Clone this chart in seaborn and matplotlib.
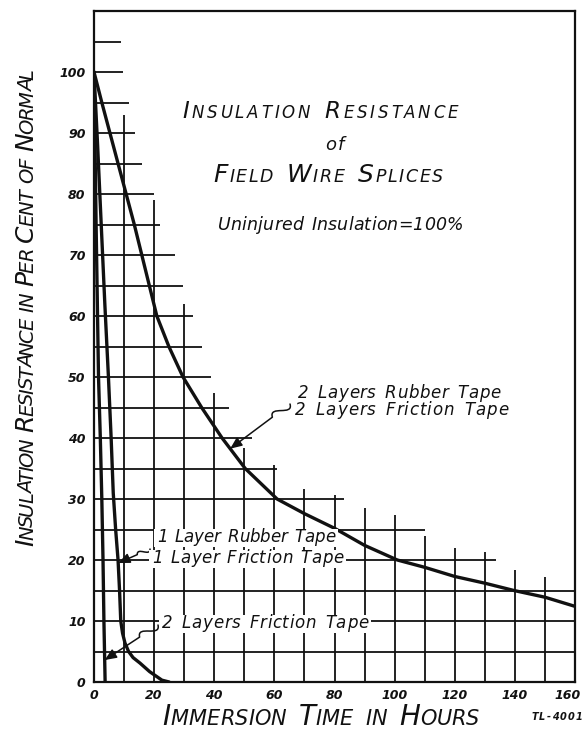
import numpy as np
import matplotlib
matplotlib.use("Agg")
import matplotlib.pyplot as plt
import matplotlib.transforms as mtransforms
import seaborn as sns
from matplotlib.path import Path
from matplotlib.patches import FancyArrowPatch, Rectangle

# ---- curves: insulation resistance (% of normal) against immersion time (h)
hours_2rubber = [0, 2.6, 5.3, 8.0, 10.7, 13.4, 15.9, 18.4, 20.9, 24.9, 29.6, 35.8,
                 42.6, 50.3, 60.9, 70, 80, 90, 100.9, 110, 120, 130, 139.7, 150, 160]
pct_2rubber = [100, 95, 90, 85, 80, 75, 70, 65, 60, 55, 50, 45,
               40, 35, 30, 27.6, 25.2, 22.4, 20, 18.8, 17.3, 16.2, 15, 13.9, 12.4]

hours_1rubber = [0, 1.2, 2.4, 3.6, 4.8, 5.7, 6.4, 7.2, 8.0, 8.5, 8.9, 9.5, 10.3,
                 11.5, 13.0, 15.3, 18.5, 22.6, 25.0]
pct_1rubber = [100, 88, 75, 62, 50, 40, 31, 25, 20, 15, 10, 8, 6.4,
               5, 4, 3.1, 1.7, 0.3, 0]

hours_2friction = [0, 0.7, 1.5, 2.1, 2.6, 3.0, 3.3, 3.5, 3.7]
pct_2friction = [100, 75, 50, 40, 30, 20, 10, 5, 0]

# ---- ruled grid: each line stops at its own length
grid_x = [10, 20, 30, 40, 50, 60, 70, 80, 90, 100, 110, 120, 130, 140, 150]
grid_x_top = [93, 79, 62, 47.3, 38.3, 35.5, 31.7, 30.6, 28.5, 27.3, 24, 22, 21.3, 18.3, 17.2]
grid_y = [105, 100, 95, 90, 85, 80, 75, 70, 65, 60, 55, 50, 45, 40, 35, 30, 25, 20, 15, 10, 5]
grid_y_end = [9, 9.5, 11.5, 13.7, 16, 20, 22, 27, 29.6, 33, 36, 39, 45, 52.6, 61, 83,
              110, 133.7, 160, 160, 160]

x_ticks = [0, 20, 40, 60, 80, 100, 120, 140, 160]
y_ticks = [0, 10, 20, 30, 40, 50, 60, 70, 80, 90, 100]

INK = "#111111"
W, H = 585, 731

sns.set_style("white")
plt.rcParams["font.family"] = ["DejaVu Sans"]

fig = plt.figure(figsize=(W / 100, H / 100), dpi=100)
ax = fig.add_axes([94 / W, 1 - 682 / H, (575 - 94) / W, (682 - 11) / H])

ax.vlines(grid_x, 0, grid_x_top, color=INK, lw=1.3, zorder=1)
ax.hlines(grid_y, 0, grid_y_end, color=INK, lw=1.3, zorder=1)

for hx, py in [(hours_2rubber, pct_2rubber), (hours_1rubber, pct_1rubber),
               (hours_2friction, pct_2friction)]:
    sns.lineplot(x=hx, y=py, ax=ax, color=INK, lw=2.4, estimator=None,
                 sort=False, zorder=3)

ax.set_xlim(0, 160)
ax.set_ylim(0, 110)
ax.set_xticks(x_ticks)
ax.set_yticks(y_ticks)
ax.set_xticklabels([str(v) for v in x_ticks])
ax.set_yticklabels([str(v) for v in y_ticks])
ax.tick_params(length=0, labelsize=9, colors=INK)
ax.tick_params(axis="y", pad=6)
ax.tick_params(axis="x", pad=5)
for lbl in ax.get_xticklabels() + ax.get_yticklabels():
    lbl.set_fontstyle("italic")
    lbl.set_fontweight("bold")
# keep the last hour label inside the sheet
last = ax.get_xticklabels()[-1]
last.set_transform(last.get_transform()
                   + mtransforms.ScaledTranslation(-5 / 72, 0, fig.dpi_scale_trans))
for sp in ax.spines.values():
    sp.set_visible(True)
    sp.set_color(INK)
    sp.set_linewidth(1.6)
ax.set_xlabel("")
ax.set_ylabel("")

renderer = fig.canvas.get_renderer()


def lettering(chunks, cx, cy, span=None, rot=0, space=6, weight="normal", bg=False,
              track=1.5):
    """Hand-lettered text: every glyph is placed on its own; when `span` is
    given the string is spread to fill that many pixels.  The string is centred
    on (cx, cy); cy is the baseline for horizontal text, cx for vertical text
    (pixels from the top-left of the sheet)."""
    glyphs = [(ch, size) for text, size in chunks for ch in text]
    arts, widths = [], []
    for ch, size in glyphs:
        if ch == " ":
            arts.append(None)
            widths.append(space)
            continue
        t = fig.text(0, 0, ch, fontsize=size, style="italic", weight=weight,
                     rotation=rot, rotation_mode="anchor", ha="left",
                     va="baseline", color=INK, zorder=4)
        bb = t.get_window_extent(renderer)
        arts.append(t)
        widths.append(bb.width if rot == 0 else bb.height)
    if span is None:
        span = sum(widths) + track * (len(glyphs) - 1)
    else:
        track = (span - sum(widths)) / max(len(glyphs) - 1, 1)
    pos = -span / 2
    for t, w in zip(arts, widths):
        if t is not None:
            if rot == 0:
                t.set_position(((cx + pos) / W, 1 - cy / H))
            else:
                t.set_position((cx / W, 1 - (cy - pos) / H))
        pos += w + track
    if bg:
        cap = max(s for _, s in chunks)
        x0, x1 = cx - span / 2 - 3, cx + span / 2 + 3
        y0, y1 = cy - cap - 1, cy + 5
        fig.add_artist(Rectangle((x0 / W, 1 - y1 / H), (x1 - x0) / W, (y1 - y0) / H,
                                 transform=fig.transFigure, facecolor="white",
                                 edgecolor="none", zorder=2))


def leader(start_px, tip):
    """Leader with a small S-kink near the label, ending in an arrowhead on
    the curve (start in sheet pixels, tip in data units)."""
    sx, sy = start_px[0], H - start_px[1]
    tx, ty = ax.transData.transform(tip)
    d = np.array([tx - sx, ty - sy])
    L = np.hypot(*d)
    n = np.array([-d[1], d[0]]) / L
    s = np.array([sx, sy])
    k = min(L * 0.4, 22)
    u = d / L
    verts = [s,
             s + u * k * 0.2 + n * k * 0.55,
             s + u * k * 0.8 - n * k * 0.55,
             s + u * k,
             np.array([tx, ty])]
    codes = [Path.MOVETO, Path.CURVE4, Path.CURVE4, Path.CURVE4, Path.LINETO]
    verts = ax.transData.inverted().transform(np.array(verts))
    arrow = FancyArrowPatch(path=Path(verts, codes), transform=ax.transData,
                            arrowstyle="-|>,head_length=0.7,head_width=0.3",
                            mutation_scale=10, color=INK, lw=1.1, zorder=5)
    ax.add_patch(arrow)


# title block
lettering([("I", 16.5), ("NSULATION", 12), (" ", 0), ("R", 16.5), ("ESISTANCE", 12)],
          320, 118, 276, space=9)
lettering([("of", 13)], 335, 150)
lettering([("F", 18), ("IELD", 12.5), (" ", 0), ("W", 18), ("IRE", 12.5), (" ", 0),
           ("S", 18), ("PLICES", 12.5)], 328, 182, 230, space=10)
lettering([("Uninjured", 12.5), (" ", 0), ("Insulation=100%", 12.5)], 340, 230, 245,
          space=8)

# axis titles
lettering([("I", 18), ("NSULATION", 14), (" ", 0), ("R", 18), ("ESISTANCE", 14),
           (" ", 0), ("IN", 14), (" ", 0), ("P", 18), ("ER", 14), (" ", 0),
           ("C", 18), ("ENT", 14), (" ", 0), ("OF", 14), (" ", 0), ("N", 18),
           ("ORMAL", 14)],
          33, 308, 477, rot=90, space=9)
lettering([("I", 20), ("MMERSION", 15), (" ", 0), ("T", 20), ("IME", 15), (" ", 0),
           ("IN", 15), (" ", 0), ("H", 20), ("OURS", 15)], 321, 725, 317, space=12)
lettering([("TL-4001", 7)], 557, 720, weight="bold", track=1.2)

# curve labels
lettering([("2 Layers Rubber Tape", 12)], 399, 398, 202, space=8)
lettering([("2 Layers Friction Tape", 12)], 401.5, 415, 213, space=8)
lettering([("1 Layer Rubber Tape", 12)], 246, 542, 178, space=7, bg=True)
lettering([("1 Layer Friction Tape", 12)], 247.5, 563, 191, space=7, bg=True)
lettering([("2 Layers Friction Tape", 12)], 265, 628, 206, space=8, bg=True)

leader((290, 404), (45.3, float(np.interp(45.3, hours_2rubber, pct_2rubber))))
leader((150, 549), (float(np.interp(19.5, pct_1rubber[::-1], hours_1rubber[::-1])), 19.5))
leader((158, 625), (float(np.interp(3.6, pct_2friction[::-1], hours_2friction[::-1])), 3.6))

fig.savefig("out.png", dpi=100)
